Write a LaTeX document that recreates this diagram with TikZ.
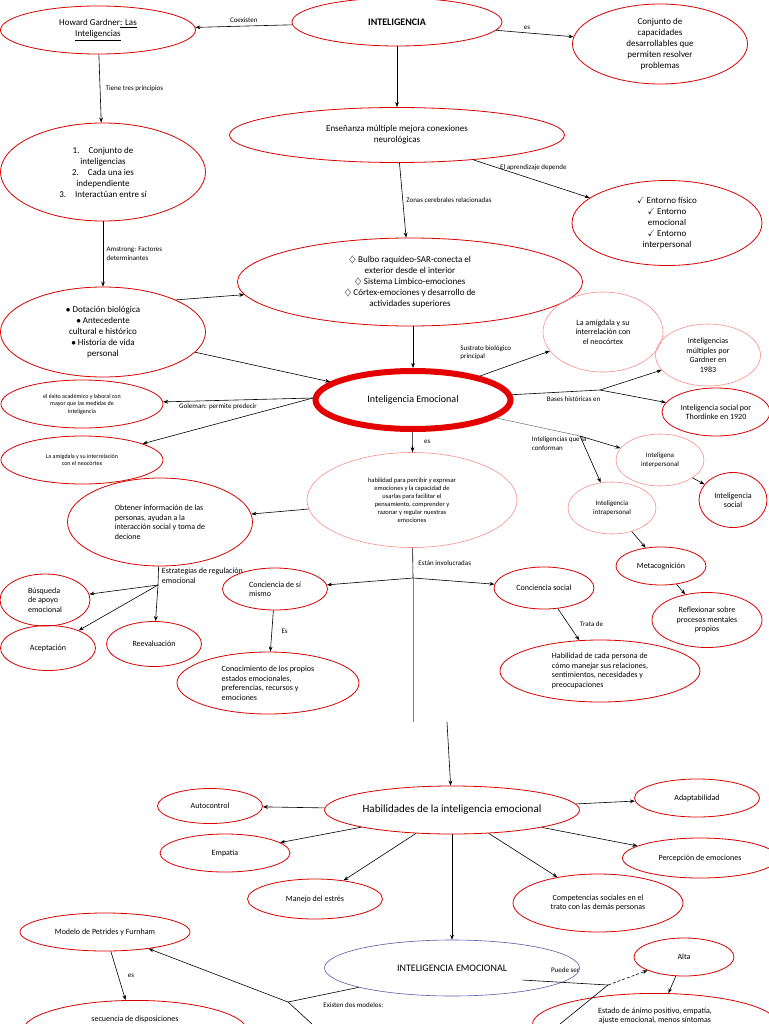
\documentclass[tikz,border=0pt]{standalone}
\usepackage{fontspec}
\setmainfont{Carlito}
\usepackage{amssymb}
\usetikzlibrary{shapes.geometric,arrows.meta}
\tikzset{
  bub/.style={ellipse, draw=red!85!black, thick, inner sep=0pt, align=center, font=\fontsize{8}{9.5}\selectfont},
  thin bub/.style={bub, draw=red!45, semithick},
  lbl/.style={font=\fontsize{7}{8.5}\selectfont, align=left},
  con/.style={-{Stealth[length=5pt]}, semithick},
  ln/.style={semithick}
}
\begin{document}
\begin{tikzpicture}[x=1pt,y=-1pt]
   \useasboundingbox (0,0) rectangle (768,1024);
   % upper part
   \node[bub, minimum width=195, minimum height=48, font=\fontsize{9}{11}\selectfont] (gard) at (98,30) {Howard Gardner\underline{: Las}\\ \underline{Inteligencias}};
   \node[bub, minimum width=210, minimum height=48, font=\bfseries\fontsize{10}{12}\selectfont] (intel) at (397,22) {INTELIGENCIA};
   \node[bub, minimum width=175, minimum height=80, font=\fontsize{9}{11}\selectfont] (conj) at (660,44) {Conjunto de\\ capacidades\\ desarrollables que\\ permiten resolver\\ problemas};
   \node[bub, minimum width=205, minimum height=98, font=\fontsize{9}{11}\selectfont] (princ) at (103,172) {1.\quad Conjunto de\\ inteligencias\\ 2.\quad Cada una ies\\ independiente\\ 3.\quad Interactúan entre sí};
   \node[bub, minimum width=335, minimum height=55, font=\fontsize{9}{11}\selectfont] (ensen) at (397,135) {Enseñanza múltiple mejora conexiones\\ neurológicas};
   \node[bub, minimum width=190, minimum height=85, font=\fontsize{9}{11}\selectfont] (ent) at (667,223) {$\checkmark$ Entorno físico\\ $\checkmark$ Entorno\\ emocional\\ $\checkmark$ Entorno\\ interpersonal};
   \node[bub, minimum width=345, minimum height=88, font=\fontsize{9}{11}\selectfont] (bulbo) at (410,282) {$\diamondsuit$ Bulbo raquídeo-SAR-conecta el\\ exterior desde el interior\\ $\diamondsuit$ Sistema Límbico-emociones\\ $\diamondsuit$ Córtex-emociones y desarrollo de\\ actividades superiores};
   \node[bub, minimum width=205, minimum height=90, font=\fontsize{9}{11}\selectfont] (dot) at (103,332) {$\bullet$ Dotación biológica\\ $\bullet$ Antecedente\\ cultural e histórico\\ $\bullet$ Historia de vida\\ personal};
   % inteligencia emocional
   \node[ellipse, draw=red!90!black, line width=6pt, minimum width=195, minimum height=58, font=\fontsize{10}{12}\selectfont] (ie) at (413,400) {Inteligencia Emocional};
   \node[thin bub, minimum width=120, minimum height=80] (amig1) at (603,332) {La amígdala y su\\ interrelación con\\ el neocórtex};
   \node[thin bub, minimum width=105, minimum height=62] (mult) at (708,355) {Inteligencias\\ múltiples por\\ Gardner en\\ 1983};
   \node[bub, minimum width=108, minimum height=48] (soc1) at (716,412) {Inteligencia social por\\ Thordinke en 1920};
   \node[bub, minimum width=162, minimum height=48, font=\fontsize{6}{7.5}\selectfont] (exito) at (82,404) {el éxito académico y laboral con\\ mayor que las medidas de\\ inteligencia};
   \node[bub, minimum width=162, minimum height=48, font=\fontsize{6}{7.5}\selectfont] (amig2) at (82,460) {La amígdala y su interrelación\\ con el neocórtex};
   \node[thin bub, minimum width=210, minimum height=95, font=\fontsize{6.5}{8}\selectfont] (habil) at (412,500) {habilidad para percibir y expresar\\ emociones y la capacidad de\\ usarlas para facilitar el\\ pensamiento, comprender y\\ razonar y regular nuestras\\ emociones};
   \node[bub, minimum width=185, minimum height=88, align=left] (obt) at (160,522) {Obtener información de las\\ personas, ayudan a la\\ interacción social y toma de\\ decione};
   \node[thin bub, minimum width=88, minimum height=52, font=\fontsize{7}{8.5}\selectfont] (inter) at (660,460) {Inteligena\\ interpersonal};
   \node[bub, minimum width=68, minimum height=55] (isoc) at (733,500) {Inteligencia\\ social};
   \node[thin bub, minimum width=88, minimum height=52, font=\fontsize{7}{8.5}\selectfont] (intra) at (612,508) {Inteligencia\\ intrapersonal};
   \node[bub, minimum width=90, minimum height=38] (meta) at (661,566) {Metacognición};
   \node[bub, minimum width=110, minimum height=55] (refl) at (707,620) {Reflexionar sobre\\ procesos mentales\\ propios};
   \node[bub, minimum width=90, minimum height=52, align=left] (busq) at (45,600) {Búsqueda\\ de apoyo\\ emocional};
   \node[bub, minimum width=95, minimum height=45] (acept) at (48,648) {Aceptación};
   \node[bub, minimum width=95, minimum height=45] (reev) at (154,644) {Reevaluación};
   \node[bub, minimum width=105, minimum height=42, align=left] (conc) at (275,589) {Conciencia de sí\\ mismo};
   \node[bub, minimum width=100, minimum height=42] (csoc) at (544,588) {Conciencia social};
   \node[bub, minimum width=182, minimum height=62, align=left] (conoc) at (268,683) {Conocimiento de los propios\\ estados emocionales,\\ preferencias, recursos y\\ emociones};
   \node[bub, minimum width=200, minimum height=62, align=left] (habc) at (600,671) {Habilidad de cada persona de\\ cómo manejar sus relaciones,\\ sentimientos, necesidades y\\ preocupaciones};
   % lower part
   \node[bub, minimum width=255, minimum height=48, font=\fontsize{11}{13}\selectfont] (habie) at (452,810) {Habilidades de la inteligencia emocional};
   \node[bub, minimum width=105, minimum height=35] (autoc) at (210,806) {Autocontrol};
   \node[bub, minimum width=125, minimum height=38] (adapt) at (697,798) {Adaptabilidad};
   \node[bub, minimum width=130, minimum height=38] (empat) at (225,853) {Empatía};
   \node[bub, minimum width=155, minimum height=40] (percep) at (700,858) {Percepción de emociones};
   \node[bub, minimum width=135, minimum height=40] (manejo) at (315,899) {Manejo del estrés};
   \node[bub, minimum width=170, minimum height=58] (compet) at (598,903) {Competencias sociales en el\\ trato con las demás personas};
   \node[bub, minimum width=170, minimum height=38] (petr) at (105,932) {Modelo de Petrides y Furnham};
   \node[ellipse, draw=blue!30!gray, semithick, minimum width=255, minimum height=56, font=\fontsize{10}{12}\selectfont] (iem) at (452,968) {INTELIGENCIA EMOCIONAL};
   \node[bub, minimum width=100, minimum height=38] (alta) at (684,957) {Alta};
   \node[bub, minimum width=245, minimum height=62, anchor=north] (estado) at (655,993) {};
   \node[lbl, font=\fontsize{8}{9.5}\selectfont, align=center, anchor=north] (estadot) at (655,1004) {Estado de ánimo positivo, empatía,\\ ajuste emocional, menos síntomas};
   \node[bub, minimum width=225, minimum height=62, anchor=north] (secu) at (135,1000) {};
   \node[lbl, font=\fontsize{8}{9.5}\selectfont, anchor=north] (secut) at (135,1012) {secuencia de disposiciones};
   % connectors
   \draw[con] (intel) -- node[lbl, above] {Coexisten} (gard);
   \draw[con] (intel) -- node[lbl, above, pos=0.4] {es} (conj);
   \draw[con] (intel) -- (ensen);
   \draw[con] (gard) -- node[lbl, right, xshift=2] {Tiene tres principios} (princ);
   \draw[con] (ensen) -- node[lbl, right, pos=0.2] {El aprendizaje depende} (ent);
   \draw[con] (ensen) -- node[lbl, right] {Zonas cerebrales relacionadas} (bulbo);
   \draw[con] (princ) -- node[lbl, right] {Amstrong: Factores\\ determinantes} (dot);
   \draw[con] (dot.north east) -- (bulbo);
   \draw[con] (dot) -- (ie);
   \draw[con] (bulbo.south -| ie) -- (ie);
   \draw[con] (ie) -- node[lbl, above left] {Sustrato biológico\\ principal} (amig1);
   \coordinate (bh) at (600,390);
   \draw[ln] (ie) -- node[lbl, below, pos=0.7, yshift=-2] {Bases históricas en} (bh);
   \draw[con] (bh) -- (mult);
   \draw[con] (bh) -- (soc1);
   \coordinate (gol) at (313,398);
   \draw[con] (gol) -- node[lbl, below, xshift=-20] {Goleman: permite predecir} (exito);
   \draw[con] (gol) -- (amig2);
   \draw[con] (ie) -- node[lbl, right, xshift=8] {es} (habil);
   \coordinate (conf) at (580,436);
   \draw[ln, gray] (ie) -- node[lbl, black, below, pos=0.75, yshift=-2] {Inteligencias que la\\ conforman} (conf);
   \draw[con] (conf) -- (inter);
   \draw[con] (conf) -- (intra);
   \draw[con] (inter) -- (isoc);
   \draw[con] (intra) -- (meta);
   \draw[con] (meta) -- (refl);
   \draw[con] (habil) -- (obt);
   \coordinate (reg) at (158,585);
   \draw[ln] (obt) -- node[lbl, right, font=\fontsize{8}{9.5}\selectfont] {Estrategias de regulación\\ emocional} (reg);
   \draw[con] (reg) -- (busq);
   \draw[con] (reg) -- (acept);
   \draw[con] (reg) -- (reev);
   \coordinate (inv) at (413,578);
   \draw[ln] (habil) -- node[lbl, right, xshift=2] {Están involucradas} (inv);
   \draw[con] (inv) -- (conc);
   \draw[con] (inv) -- (csoc);
   \coordinate (a1) at (413,722);
   \coordinate (a2) at (447,722);
   \draw[ln, gray] (inv) -- (a1);
   \draw[con] (a2) -- (habie);
   \draw[con] (conc) -- node[lbl, right, xshift=6] {Es} (conoc);
   \draw[con] (csoc) -- node[lbl, right, xshift=8] {Trata de} (habc);
   \foreach \t in {autoc, adapt, empat, percep, manejo, compet}
     \draw[con] (habie) -- (\t);
   \draw[con] (habie) -- (iem);
   \coordinate (mod) at (288,1002);
   \coordinate (modb) at (312,1024);
   \draw[ln] (iem) -- node[lbl, below, xshift=30, yshift=-4] {Existen dos modelos:} (mod);
   \draw[con] (mod) -- (petr);
   \draw[ln] (mod) -- (modb);
   \draw[con] (petr) -- node[lbl, right, xshift=6] {es} (secu);
   \coordinate (ps) at (608,985);
   \coordinate (psb) at (560,1024);
   \draw[ln] (iem.south east) ++(-20,-8) -- node[lbl, above, yshift=6] {Puede ser} (ps);
   \draw[con, densely dashed] (ps) -- (alta);
   \draw[ln] (ps) -- (psb);
   \draw[con] (alta) -- (estado);
\end{tikzpicture}
\end{document}
